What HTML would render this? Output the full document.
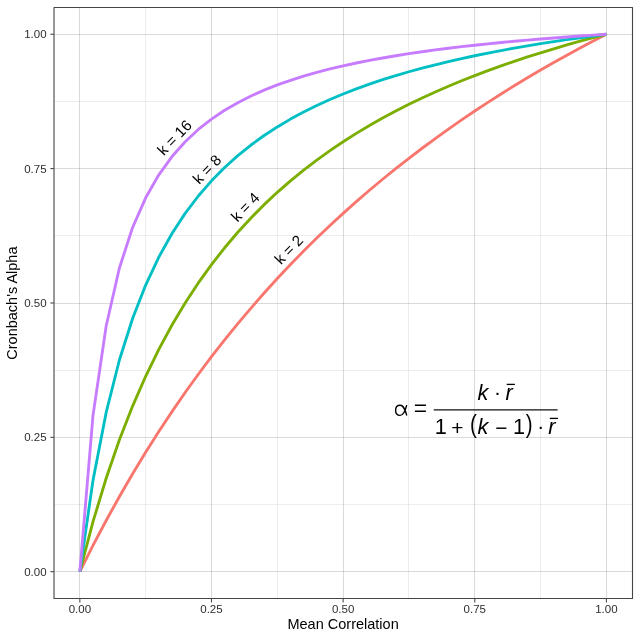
<!DOCTYPE html>
<html><head><meta charset="utf-8"><title>Cronbach alpha</title>
<style>html,body{margin:0;padding:0;background:#fff;}svg{display:block;}text{font-family:"Liberation Sans",sans-serif;}</style></head><body>
<svg width="640" height="640" viewBox="0 0 640 640" style="will-change:transform">
<rect x="0" y="0" width="640" height="640" fill="#ffffff"/>
<g fill="rgba(0,0,0,0.07)">
<rect x="145" y="8" width="1" height="590"/>
<rect x="277" y="8" width="1" height="590"/>
<rect x="408" y="8" width="1" height="590"/>
<rect x="540" y="8" width="1" height="590"/>
<rect x="54.5" y="504" width="577.5" height="1"/>
<rect x="54.5" y="370" width="577.5" height="1"/>
<rect x="54.5" y="235" width="577.5" height="1"/>
<rect x="54.5" y="101" width="577.5" height="1"/>
</g>
<g fill="rgba(0,0,0,0.145)">
<rect x="79" y="8" width="1" height="590"/>
<rect x="211" y="8" width="1" height="590"/>
<rect x="343" y="8" width="1" height="590"/>
<rect x="474" y="8" width="1" height="590"/>
<rect x="606" y="8" width="1" height="590"/>
<rect x="54.5" y="571" width="577.5" height="1"/>
<rect x="54.5" y="437" width="577.5" height="1"/>
<rect x="54.5" y="303" width="577.5" height="1"/>
<rect x="54.5" y="168" width="577.5" height="1"/>
<rect x="54.5" y="34" width="577.5" height="1"/>
</g>
<polyline points="79.85,571.70 93.01,545.48 106.18,520.51 119.34,496.71 132.50,473.98 145.67,452.27 158.83,431.50 172.00,411.61 185.16,392.55 198.32,374.27 211.49,356.72 224.65,339.86 237.81,323.65 250.98,308.05 264.14,293.02 277.31,278.55 290.47,264.59 303.63,251.12 316.80,238.11 329.96,225.55 343.12,213.40 356.29,201.65 369.45,190.28 382.62,179.28 395.78,168.61 408.94,158.28 422.11,148.25 435.27,138.53 448.43,129.09 461.60,119.93 474.76,111.03 487.93,102.38 501.09,93.97 514.25,85.79 527.42,77.83 540.58,70.08 553.75,62.54 566.91,55.19 580.07,48.03 593.24,41.05 606.40,34.25" fill="none" stroke="#F8766D" stroke-width="2.85" stroke-linejoin="round" stroke-linecap="butt"/>
<polyline points="79.85,571.70 93.01,521.70 106.18,478.23 119.34,440.08 132.50,406.33 145.67,376.26 158.83,349.31 172.00,325.00 185.16,302.98 198.32,282.92 211.49,264.59 224.65,247.76 237.81,232.26 250.98,217.94 264.14,204.66 277.31,192.32 290.47,180.83 303.63,170.09 316.80,160.04 329.96,150.61 343.12,141.74 356.29,133.39 369.45,125.52 382.62,118.07 395.78,111.03 408.94,104.35 422.11,98.02 435.27,91.99 448.43,86.26 461.60,80.80 474.76,75.59 487.93,70.62 501.09,65.86 514.25,61.32 527.42,56.96 540.58,52.78 553.75,48.78 566.91,44.93 580.07,41.23 593.24,37.67 606.40,34.25" fill="none" stroke="#7CAE00" stroke-width="2.85" stroke-linejoin="round" stroke-linecap="butt"/>
<polyline points="79.85,571.70 93.01,480.22 106.18,412.46 119.34,360.24 132.50,318.78 145.67,285.06 158.83,257.10 172.00,233.53 185.16,213.40 198.32,196.01 211.49,180.83 224.65,167.46 237.81,155.61 250.98,145.02 264.14,135.51 277.31,126.91 290.47,119.11 303.63,111.99 316.80,105.48 329.96,99.49 343.12,93.97 356.29,88.86 369.45,84.12 382.62,79.71 395.78,75.59 408.94,71.75 422.11,68.14 435.27,64.76 448.43,61.58 461.60,58.58 474.76,55.75 487.93,53.07 501.09,50.54 514.25,48.13 527.42,45.85 540.58,43.68 553.75,41.61 566.91,39.64 580.07,37.76 593.24,35.97 606.40,34.25" fill="none" stroke="#00BFC4" stroke-width="2.85" stroke-linejoin="round" stroke-linecap="butt"/>
<polyline points="79.85,571.70 93.01,415.35 106.18,326.01 119.34,268.20 132.50,227.73 145.67,197.82 158.83,174.81 172.00,156.57 185.16,141.74 198.32,129.46 211.49,119.11 224.65,110.28 237.81,102.65 250.98,96.00 264.14,90.14 277.31,84.95 290.47,80.32 303.63,76.15 316.80,72.39 329.96,68.98 343.12,65.86 356.29,63.01 369.45,60.40 382.62,57.98 395.78,55.75 408.94,53.68 422.11,51.75 435.27,49.95 448.43,48.27 461.60,46.70 474.76,45.22 487.93,43.83 501.09,42.52 514.25,41.28 527.42,40.11 540.58,39.01 553.75,37.96 566.91,36.96 580.07,36.01 593.24,35.11 606.40,34.25" fill="none" stroke="#C77CFF" stroke-width="2.85" stroke-linejoin="round" stroke-linecap="butt"/>
<text x="174.4" y="137.3" font-size="15.17" fill="#000" text-anchor="middle" dominant-baseline="central" transform="rotate(-46 174.4 137.3)">k = 16</text>
<text x="206.85" y="169.1" font-size="15.17" fill="#000" text-anchor="middle" dominant-baseline="central" transform="rotate(-46 206.85 169.1)">k = 8</text>
<text x="245.0" y="206.9" font-size="15.17" fill="#000" text-anchor="middle" dominant-baseline="central" transform="rotate(-46 245.0 206.9)">k = 4</text>
<text x="288.7" y="249.4" font-size="15.17" fill="#000" text-anchor="middle" dominant-baseline="central" transform="rotate(-46 288.7 249.4)">k = 2</text>
<rect x="54.0" y="7.5" width="578.5" height="591.0" fill="none" stroke="#454545" stroke-width="1.1" stroke-linejoin="round"/>
<g stroke="#454545" stroke-width="1.07">
<line x1="79.85" y1="598.30" x2="79.85" y2="602.40"/>
<line x1="50.33" y1="571.70" x2="54.00" y2="571.70"/>
<line x1="211.49" y1="598.30" x2="211.49" y2="602.40"/>
<line x1="50.33" y1="437.34" x2="54.00" y2="437.34"/>
<line x1="343.12" y1="598.30" x2="343.12" y2="602.40"/>
<line x1="50.33" y1="302.98" x2="54.00" y2="302.98"/>
<line x1="474.76" y1="598.30" x2="474.76" y2="602.40"/>
<line x1="50.33" y1="168.61" x2="54.00" y2="168.61"/>
<line x1="606.40" y1="598.30" x2="606.40" y2="602.40"/>
<line x1="50.33" y1="34.25" x2="54.00" y2="34.25"/>
</g>
<g font-size="11.5" fill="#2e2e2e">
<text x="79.85" y="612.9" text-anchor="middle">0.00</text>
<text x="46.6" y="575.85" text-anchor="end">0.00</text>
<text x="211.49" y="612.9" text-anchor="middle">0.25</text>
<text x="46.6" y="441.49" text-anchor="end">0.25</text>
<text x="343.12" y="612.9" text-anchor="middle">0.50</text>
<text x="46.6" y="307.12" text-anchor="end">0.50</text>
<text x="474.76" y="612.9" text-anchor="middle">0.75</text>
<text x="46.6" y="172.76" text-anchor="end">0.75</text>
<text x="606.40" y="612.9" text-anchor="middle">1.00</text>
<text x="46.6" y="38.40" text-anchor="end">1.00</text>
</g>
<text x="343.1" y="628.7" font-size="14.5" fill="#000" text-anchor="middle">Mean Correlation</text>
<text x="16.9" y="303.12" font-size="14.5" fill="#000" text-anchor="middle" transform="rotate(-90 16.9 303.12)">Cronbach's Alpha</text>
<g role="img" aria-label="alpha"><title>α</title>
<path d="M406.70,405.10 C405.60,409.70 403.70,415.40 400.00,415.40 C397.10,415.40 395.60,413.10 395.60,410.30 C395.60,407.50 397.20,405.30 400.10,405.30 C403.90,405.30 405.40,410.90 406.80,415.50" fill="none" stroke="#000" stroke-width="1.4" stroke-linecap="butt" stroke-linejoin="round"/>
</g>
<g font-size="21.7" fill="#000">
<text x="413.67" y="415.75" font-size="23" stroke="#fff" stroke-width="0.25">=</text>
<text x="477.4" y="399.6" font-style="italic">k</text>
<text x="494.0" y="398.70" font-size="20.87">·</text>
<text x="505.4" y="399.6" font-style="italic">r</text>
<text x="434.7" y="433.6">1</text>
<text x="451.28" y="434.75" font-size="20.87">+</text>
<text transform="translate(470.0 433.1) scale(0.8 1)" font-size="25.7">(</text>
<text x="477.4" y="433.6" font-style="italic">k</text>
<text x="495.3" y="434.50" font-size="20.87">−</text>
<text x="513.0" y="433.6">1</text>
<text transform="translate(525.7 433.1) scale(0.8 1)" font-size="25.7">)</text>
<text x="537.13" y="432.70" font-size="20.87">·</text>
<text x="548.2" y="433.6" font-style="italic">r</text>
</g>
<g stroke="#000" stroke-width="1.3">
<line x1="506.7" y1="384.4" x2="514.9" y2="384.4"/>
<line x1="549.8" y1="418.4" x2="558.0" y2="418.4"/>
</g>
<line x1="433.75" y1="409.85" x2="557.6" y2="409.85" stroke="#111" stroke-width="1.2"/>
</svg></body></html>
